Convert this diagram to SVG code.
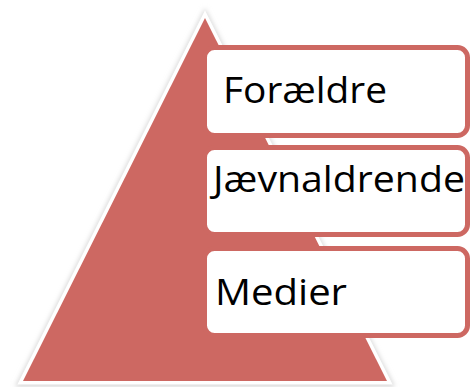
<svg xmlns="http://www.w3.org/2000/svg" width="470" height="387" viewBox="0 0 470 387">
  <defs>
    <filter id="soft" x="-10%" y="-10%" width="120%" height="120%">
      <feGaussianBlur stdDeviation="2.5"/>
    </filter>
  </defs>
  <style>
    .level { fill: #ffffff; stroke: #cd6862; stroke-width: 5; }
    .label { font-family: "Open Sans", "Liberation Sans", sans-serif; font-size: 37px; fill: #000000; }
  </style>

  <!-- pyramid with white rim and soft shadow -->
  <g id="pyramid">
    <polygon points="205,8 15,387 395,387" fill="#d8d8d8" filter="url(#soft)"/>
    <polygon points="205,18 23,381 387,381" fill="#ffffff" stroke="#ffffff" stroke-width="7" stroke-linejoin="miter"/>
    <polygon points="205,18 23,381 387,381" fill="#cd6862"/>
  </g>

  <g id="level-foraeldre">
    <rect class="level" x="204.5" y="47.5" width="263" height="88" rx="10"/>
    <text class="label" x="223" y="103" textLength="164" lengthAdjust="spacingAndGlyphs">Forældre</text>
  </g>

  <g id="level-jaevnaldrende">
    <rect class="level" x="204.5" y="147.5" width="263" height="87" rx="10"/>
    <text class="label" x="213" y="192" textLength="252" lengthAdjust="spacingAndGlyphs">Jævnaldrende</text>
  </g>

  <g id="level-medier">
    <rect class="level" x="204.5" y="248.5" width="263" height="87" rx="10"/>
    <text class="label" x="215" y="305" textLength="132" lengthAdjust="spacingAndGlyphs">Medier</text>
  </g>

  <g id="connectors"/>
</svg>
